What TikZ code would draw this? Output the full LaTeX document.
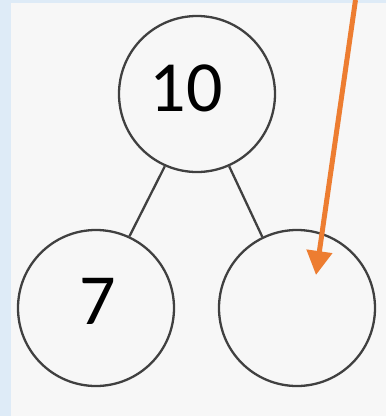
\documentclass[tikz,border=0pt]{standalone}
\usepackage{fontspec}
\setmainfont{Carlito}
\usetikzlibrary{arrows.meta}
\definecolor{bgblue}{HTML}{DEEBF7}
\definecolor{bggray}{HTML}{F7F7F7}
\definecolor{arroworange}{HTML}{ED7D31}
\begin{document}
\begin{tikzpicture}[x=1pt,y=-1pt,
  numcircle/.style={circle,draw=black!75,line width=2.3pt,minimum size=156pt,inner sep=0pt},
  numlabel/.style={font=\fontsize{72}{72}\selectfont},
  link/.style={draw=black!75,line width=2.3pt},
  pointer/.style={draw=arroworange,line width=5pt,-{Triangle[length=24pt,width=25pt]}}]
\fill[bgblue] (0,0) rectangle (386,416);
\fill[bggray] (11,3) rectangle (386,416);
\useasboundingbox (0,0) rectangle (386,416);
\node[numcircle] (top) at (197,94) {};
\node[numlabel] (toplabel) at (186,88) {10};
\node[numcircle] (left) at (96,308) {};
\node[numlabel] (leftlabel) at (98,301) {7};
\node[numcircle] (right) at (297,308) {};
\draw[link] (top.246) -- (left.65);
\draw[link] (top.294) -- (right.116);
\coordinate (arrowstart) at (355.5,0);
\coordinate (arrowtip) at (316,275);
\draw[pointer] (arrowstart) -- (arrowtip);
\end{tikzpicture}
\end{document}
